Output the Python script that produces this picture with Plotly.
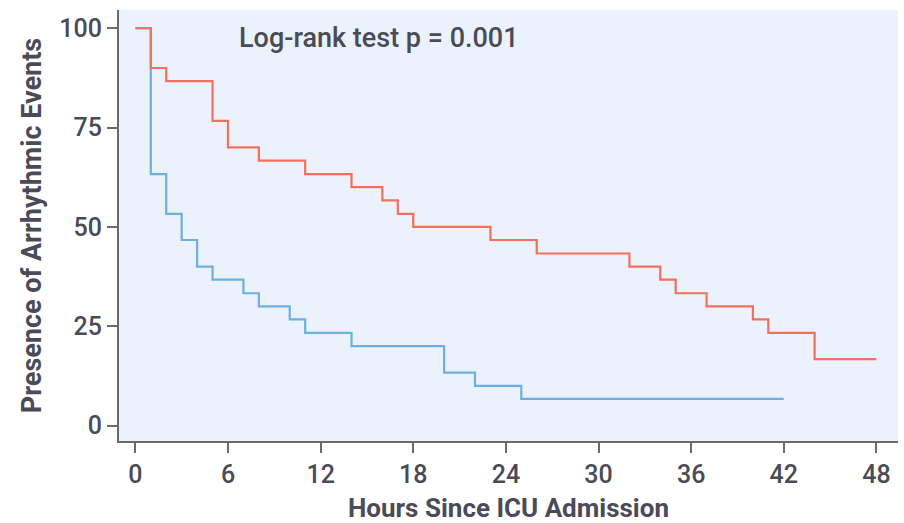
import plotly.graph_objects as go

# Kaplan-Meier style step data (hours, percent)
red_hours = [0, 1, 2, 5, 6, 8, 11, 14, 16, 17, 18, 23, 26, 32, 34, 35, 37, 40, 41, 44, 48]
red_pct = [100, 90, 86.7, 76.7, 70, 66.7, 63.3, 60, 56.7, 53.3, 50, 46.7, 43.3, 40, 36.7, 33.3, 30, 26.7, 23.3, 16.7, 16.7]

blue_hours = [0, 1, 2, 3, 4, 5, 7, 8, 10, 11, 14, 20, 22, 25, 42]
blue_pct = [100, 63.3, 53.3, 46.7, 40, 36.7, 33.3, 30, 26.7, 23.3, 20, 13.3, 10, 6.7, 6.7]

x_ticks = [0, 6, 12, 18, 24, 30, 36, 42, 48]
y_ticks = [0, 25, 50, 75, 100]

FONT = "Roboto, sans-serif"
TXT = "#4a4b57"

fig = go.Figure()
fig.add_trace(go.Scatter(x=blue_hours, y=blue_pct, mode="lines", line_shape="hv",
                         line=dict(color="#6cb0e2", width=2.2), showlegend=False))
fig.add_trace(go.Scatter(x=red_hours, y=red_pct, mode="lines", line_shape="hv",
                         line=dict(color="#f36f5e", width=2.2), showlegend=False))

fig.add_annotation(x=0.151, y=0.935, xref="paper", yref="paper", xanchor="left", yanchor="middle",
                   text="Log-rank test p = 0.001", showarrow=False,
                   font=dict(family=FONT, size=27, color=TXT, weight=500))

fig.update_layout(
    width=904, height=523,
    margin=dict(l=119, r=6, t=10, b=82),
    paper_bgcolor="white", plot_bgcolor="#ebf2fb",
    font=dict(family=FONT, color=TXT),
)
fig.update_xaxes(range=[-1.06, 49.4], tickvals=x_ticks, ticktext=[str(v) for v in x_ticks],
                 showgrid=False, zeroline=False, showline=True, linecolor="#6b6b6b", linewidth=2,
                 ticks="outside", ticklen=10, tickwidth=2, tickcolor="#6b6b6b",
                 tickfont=dict(size=25, family=FONT, color=TXT, weight=500),
                 title=dict(text="<b>Hours Since ICU Admission</b>", font=dict(size=26, family=FONT, color=TXT), standoff=11))
fig.update_yaxes(range=[-3.9, 104.6], tickvals=y_ticks, ticktext=[str(v) for v in y_ticks],
                 showgrid=False, zeroline=False, showline=True, linecolor="#6b6b6b", linewidth=2,
                 ticks="outside", ticklen=10, tickwidth=2, tickcolor="#6b6b6b",
                 tickfont=dict(size=25, family=FONT, color=TXT, weight=500),
                 title=dict(text="<b>Presence of Arrhythmic Events</b>", font=dict(size=27, family=FONT, color=TXT), standoff=10))

fig.write_html("out.html")
